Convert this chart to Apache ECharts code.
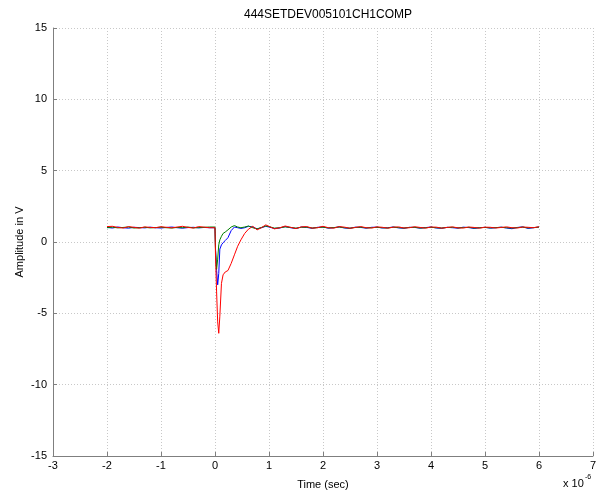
<!DOCTYPE html>
<html><head><meta charset="utf-8">
<script src="https://cdn.jsdelivr.net/npm/echarts@6/dist/echarts.min.js"></script>
<style>html,body{margin:0;padding:0;background:#fff}#c{width:599px;height:496px}</style>
</head><body><div id="c"></div>
<script>
// time in microseconds (axis shows x 10^-6)
const times = [-2.0,-1.9,-1.8,-1.7,-1.6,-1.5,-1.4,-1.3,-1.2,-1.1,-1.0,-0.9,-0.8,-0.7,-0.6,-0.5,-0.4,-0.3,-0.2,-0.1,
  0.0,0.01,0.03,0.05,0.07,0.09,0.12,0.15,0.19,0.24,0.3,0.36,0.42,0.48,0.55,0.62,0.7,0.78,0.86,0.94,
  1.0,1.1,1.2,1.3,1.4,1.5,1.6,1.7,1.8,1.9,2.0,2.1,2.2,2.3,2.4,2.5,2.6,2.7,2.8,2.9,3.0,3.1,3.2,3.3,3.4,3.5,3.6,3.7,3.8,3.9,
  4.0,4.1,4.2,4.3,4.4,4.5,4.6,4.7,4.8,4.9,5.0,5.1,5.2,5.3,5.4,5.5,5.6,5.7,5.8,5.9,6.0];

const blueValues = [1.02,0.98,1.05,1.0,0.97,1.03,1.01,0.99,1.04,1.0,0.98,1.02,1.05,1.0,0.97,1.01,1.03,0.99,1.02,1.0,
  1.0,-0.5,-2.0,-3.0,-2.2,-0.5,-0.2,-0.05,0.1,0.3,0.8,1.05,1.0,0.95,1.0,1.1,1.05,0.92,1.0,1.1,
  1.05,0.95,0.98,1.08,1.0,0.95,1.05,1.02,0.96,1.03,1.05,0.97,1.0,1.06,0.98,0.96,1.04,1.02,0.97,1.03,1.04,0.98,1.0,1.05,0.99,0.96,1.03,1.02,0.97,1.01,
  1.05,0.98,0.96,1.03,1.0,0.97,1.04,1.01,0.95,1.0,1.03,0.97,1.0,1.04,0.98,0.93,1.02,1.06,0.95,1.0,1.05];

const greenValues = [1.0,1.04,0.99,1.02,1.05,0.98,1.0,1.03,0.99,1.01,1.04,1.0,0.98,1.02,1.0,1.05,0.99,1.01,1.03,1.05,
  1.05,-0.6,-1.9,-1.2,-0.2,0.15,0.4,0.6,0.7,0.85,1.05,1.15,1.05,1.0,1.05,1.12,1.0,0.92,1.02,1.12,
  1.08,0.97,1.0,1.06,1.02,0.97,1.03,1.04,0.98,1.01,1.04,0.99,1.01,1.05,1.0,0.97,1.02,1.04,0.99,1.0,1.03,1.0,0.98,1.04,1.01,0.98,1.02,1.03,0.98,1.0,
  1.03,1.0,0.98,1.02,1.03,0.99,1.01,1.03,0.98,1.0,1.02,0.99,1.01,1.03,1.0,0.98,1.01,1.04,0.99,1.01,1.04];

const redValues = [1.08,1.1,1.02,0.98,1.08,1.03,0.97,1.06,1.02,1.0,1.07,1.03,0.99,1.05,1.1,1.02,0.98,1.08,1.04,1.0,
  1.0,-1.0,-3.5,-5.6,-6.4,-5.2,-2.9,-2.3,-2.1,-2.0,-1.5,-0.9,-0.3,0.15,0.6,0.9,1.1,0.85,1.0,1.2,
  1.1,0.92,1.0,1.12,1.03,0.94,1.06,1.08,0.97,1.0,1.1,1.0,0.97,1.08,1.04,0.96,1.02,1.08,1.0,0.98,1.06,1.03,0.97,1.04,1.06,0.98,1.0,1.07,1.02,0.97,
  1.05,1.04,0.97,1.02,1.06,0.99,0.98,1.05,1.02,0.97,1.04,1.03,0.98,1.02,1.06,1.0,0.98,1.05,1.03,1.0,1.07];

const xTicks = [-3,-2,-1,0,1,2,3,4,5,6,7];
const yTicks = [-15,-10,-5,0,5,10,15];

function pairs(vals){ return times.map((t,i)=>[t,vals[i]]); }

const chart = echarts.init(document.getElementById('c'), null, {renderer:'canvas'});
const font = 'Liberation Sans, Arial, sans-serif';
chart.setOption({
  animation:false,
  backgroundColor:'#fff',
  title:{text:'444SETDEV005101CH1COMP', left:323, textAlign:'center', top:4,
    textStyle:{fontFamily:font,fontSize:12,fontWeight:'normal',color:'#000'}},
  grid:{left:53,right:5,top:28,bottom:40,containLabel:false},
  xAxis:{type:'value',min:xTicks[0],max:xTicks[xTicks.length-1],interval:1,
    axisLine:{onZero:false,lineStyle:{color:'#7f7f7f',width:1}},
    axisTick:{inside:true,length:4,lineStyle:{color:'#7f7f7f'}},
    axisLabel:{fontFamily:font,fontSize:11,color:'#000',margin:4},
    splitLine:{show:true,lineStyle:{color:'#c8c8c8',type:[1,2],width:1}},
    name:'Time (sec)',nameLocation:'middle',nameGap:23,
    nameTextStyle:{fontFamily:font,fontSize:11,color:'#000'}},
  yAxis:{type:'value',min:yTicks[0],max:yTicks[yTicks.length-1],interval:5,
    axisLine:{show:true,onZero:false,lineStyle:{color:'#7f7f7f',width:1}},
    axisTick:{show:true,inside:true,length:4,lineStyle:{color:'#7f7f7f'}},
    axisLabel:{fontFamily:font,fontSize:11,color:'#000',margin:6},
    splitLine:{show:true,lineStyle:{color:'#c8c8c8',type:[1,2],width:1}}},
  graphic:[{type:'text',x:20,y:242,rotation:Math.PI/2,
            style:{text:'Amplitude in V',fontFamily:font,fontSize:11,fill:'#000',align:'center',verticalAlign:'middle'}},
           {type:'text',left:563,top:478,style:{text:'x 10',fontFamily:font,fontSize:11,fill:'#000'}},
           {type:'text',left:585,top:474,style:{text:'-6',fontFamily:font,fontSize:7,fill:'#000'}}],
  series:[
    {type:'line',data:pairs(blueValues),showSymbol:false,lineStyle:{color:'#0000ff',width:1},itemStyle:{color:'#0000ff'}},
    {type:'line',data:pairs(greenValues),showSymbol:false,lineStyle:{color:'#008000',width:1},itemStyle:{color:'#008000'}},
    {type:'line',data:pairs(redValues),showSymbol:false,lineStyle:{color:'#ff0000',width:1},itemStyle:{color:'#ff0000'}}
  ]
});
</script></body></html>
